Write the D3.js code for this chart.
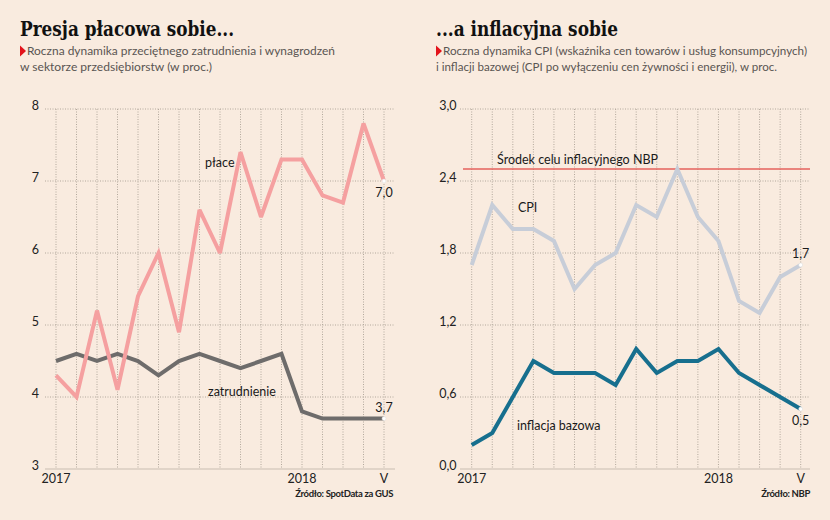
<!DOCTYPE html>
<html><head><meta charset="utf-8">
<script src="https://cdn.jsdelivr.net/npm/d3@7/dist/d3.min.js"></script>
<style>
body{margin:0;background:#f9ebdf;}
svg{display:block;}
</style></head>
<body><svg id="c" width="830" height="520" font-family="Lato, 'Noto Sans', sans-serif"></svg>
<script>
const months = ["I","II","III","IV","V","VI","VII","VIII","IX","X","XI","XII","I","II","III","IV","V"];
const xTickLabels = [{i:0,t:"2017"},{i:12,t:"2018"},{i:16,t:"V"}];
const place = [4.3,4.0,5.2,4.1,5.4,6.0,4.9,6.6,6.0,7.4,6.5,7.3,7.3,6.8,6.7,7.8,7.0];
const zatrudnienie = [4.5,4.6,4.5,4.6,4.5,4.3,4.5,4.6,4.5,4.4,4.5,4.6,3.8,3.7,3.7,3.7,3.7];
const cpi = [1.7,2.2,2.0,2.0,1.9,1.5,1.7,1.8,2.2,2.1,2.5,2.1,1.9,1.4,1.3,1.6,1.7];
const bazowa = [0.2,0.3,0.6,0.9,0.8,0.8,0.8,0.7,1.0,0.8,0.9,0.9,1.0,0.8,0.7,0.6,0.5];
const leftTicks = [3,4,5,6,7,8];
const rightTicks = [0,0.6,1.2,1.8,2.4,3.0];
const nbpTarget = 2.5;

const svg = d3.select("#c");
svg.append("rect").attr("width",830).attr("height",520).attr("fill","#f9ebdf");
const fmt = v => d3.format(".1f")(v).replace(".",",");

function panel(o){
  const g = svg.append("g");
  const x = d3.scaleLinear().domain([0, months.length-1]).range([o.x0, o.x1]);
  const y = d3.scaleLinear().domain(o.domain).range([469,109]);
  o.ticks.forEach((t,k)=>{
    g.append("line").attr("x1",o.gl).attr("x2",o.gr).attr("y1",y(t)).attr("y2",y(t))
     .attr("stroke", k===0?"#c9bdb1":"#b3a89c").attr("stroke-width",1)
     .attr("stroke-dasharray", k===0?null:"1,1.5");
  });
  months.forEach((m,i)=>{
    g.append("line").attr("x1",x(i)).attr("x2",x(i)).attr("y1",y(o.domain[1])).attr("y2",y(o.domain[0]))
     .attr("stroke","#b3a89c").attr("stroke-width",1).attr("stroke-dasharray","1,1.5");
  });
  o.ticks.forEach(t=>{
    g.append("text").attr("x",o.tx).attr("y",y(t)+1).attr("text-anchor","end")
     .attr("font-size",12.5).attr("fill","#222").text(o.tfmt(t));
  });
  xTickLabels.forEach(d=>{
    g.append("text").attr("x",x(d.i)).attr("y",483).attr("text-anchor","middle")
     .attr("font-size",12.5).attr("fill","#222").text(d.t);
  });
  const line = d3.line().x((d,i)=>x(i)).y(d=>y(d));
  if(o.target!==undefined){
    g.append("line").attr("x1",o.gl+3).attr("x2",o.gr).attr("y1",y(o.target)).attr("y2",y(o.target))
     .attr("stroke","#e4625c").attr("stroke-width",1.5);
  }
  o.series.forEach(s=>{
    g.append("path").attr("d",line(s.data)).attr("fill","none").attr("stroke",s.color)
     .attr("stroke-width",4).attr("stroke-linejoin","miter").attr("stroke-miterlimit",3);
  });
  o.series.forEach(s=>{
    const n = s.data.length-1;
    g.append("circle").attr("cx",x(n)).attr("cy",y(s.data[n])).attr("r",2)
     .attr("fill","#fff").attr("stroke","#ddd").attr("stroke-width",0.5);
  });
  return {x,y,g};
}

const L = panel({x0:56,x1:384,gl:45,gr:395,tx:39,domain:[3,8],ticks:leftTicks,tfmt:d=>d3.format("d")(d),
  series:[{data:zatrudnienie,color:"#6e6c6b"},{data:place,color:"#f5a0a0"}]});
const R = panel({x0:471.7,x1:800.7,gl:460,gr:810,tx:456.5,domain:[0,3],ticks:rightTicks,tfmt:fmt,target:nbpTarget,
  series:[{data:cpi,color:"#c7cdd8"},{data:bazowa,color:"#176f8e"}]});

function lab(x,y,t,anchor){svg.append("text").attr("x",x).attr("y",y).attr("font-size",12.5).attr("fill","#1a1a1a").attr("text-anchor",anchor||"start").text(t);}
lab(205,167,"płace");
lab(208,396,"zatrudnienie");
lab(L.x(16),L.y(place[16])+16,fmt(place[16]),"middle");
lab(L.x(16),L.y(zatrudnienie[16])-7,fmt(zatrudnienie[16]),"middle");
lab(518,212,"CPI");
lab(517,430,"inflacja bazowa");
lab(R.x(16),R.y(cpi[16])-7,fmt(cpi[16]),"middle");
lab(R.x(16),R.y(bazowa[16])+16,fmt(bazowa[16]),"middle");
lab(497,R.y(nbpTarget)-5,"Środek celu inflacyjnego NBP");

function title(x,t,w){svg.append("text").attr("x",x).attr("y",36).style("font-family","'DejaVu Serif', serif")
  .attr("font-weight",700).attr("font-size",20).attr("fill","#111").attr("textLength",w).attr("lengthAdjust","spacingAndGlyphs").text(t);}
title(20,"Presja płacowa sobie...",214);
title(436,"...a inflacyjna sobie",182);

function tri(x,y){svg.append("path").attr("d",`M${x},${y-5.5}L${x+6},${y}L${x},${y+5.5}Z`).attr("fill","#e3131b");}
function sub(x,y,t,w){svg.append("text").attr("x",x).attr("y",y).attr("font-size",12).attr("fill","#5a5552")
  .attr("textLength",w).attr("lengthAdjust","spacingAndGlyphs").text(t);}
tri(20,51); sub(27,55,"Roczna dynamika przeciętnego zatrudnienia i wynagrodzeń",308);
sub(20,71,"w sektorze przedsiębiorstw (w proc.)",192);
tri(436,51); sub(443,55,"Roczna dynamika CPI (wskaźnika cen towarów i usług konsumpcyjnych)",364);
sub(436,71,"i inflacji bazowej (CPI po wyłączeniu cen żywności i energii), w proc.",341);

function src(x,t){svg.append("text").attr("x",x).attr("y",497).attr("text-anchor","end").attr("font-size",9.5)
  .attr("font-weight",700).attr("letter-spacing",-0.35).attr("fill","#222").text(t);}
src(393,"Źródło: SpotData za GUS");
src(810,"Źródło: NBP");
</script></body></html>
